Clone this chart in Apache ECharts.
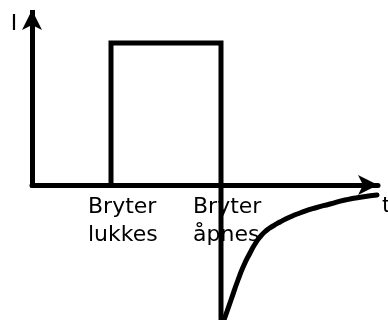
<!DOCTYPE html>
<html>
<head>
<meta charset="utf-8">
<script src="https://cdn.jsdelivr.net/npm/echarts@6/dist/echarts.min.js"></script>
<style>
  html, body { margin: 0; padding: 0; background: #fff; }
  #chart { width: 388px; height: 320px; }
</style>
</head>
<body>
<div id="chart"></div>
<script>
// square pulse: switch closed at 79, opened at 189
var pulseData = [[79, 0], [79, 142], [189, 142], [189, -135]];
// decaying current after the switch opens
var decayData = [[192, -135], [199, -115], [206, -95], [212, -80], [218, -68], [223, -59],
  [228, -52], [235, -45], [241, -41], [248, -37], [258, -32], [268, -28], [283, -23],
  [298, -19], [313, -15], [330, -12], [345, -10]];
var labelValues = [56, 161];
var labelTexts = ['Bryter\nlukkes', 'Bryter\nåpnes'];
var font = 'DejaVu Sans';

var chart = echarts.init(document.getElementById('chart'));

var option = {
  animation: false,
  grid: {
    left: 32,
    right: 10,
    top: 10,
    bottom: 0,
    containLabel: false,
    outerBoundsMode: 'none'
  },
  xAxis: {
    type: 'value',
    min: 0,
    max: 346,
    offset: -135,
    name: 't',
    nameLocation: 'end',
    nameGap: 4,
    nameTextStyle: {
      fontFamily: font,
      fontSize: 22,
      color: '#000',
      align: 'left',
      verticalAlign: 'top',
      lineHeight: 22,
      padding: [10, 0, 0, 0]
    },
    axisLine: {
      onZero: false,
      symbol: ['none', 'arrow'],
      symbolSize: [15, 20],
      lineStyle: { color: '#000', width: 5 }
    },
    axisTick: { show: false },
    splitLine: { show: false },
    axisLabel: {
      customValues: labelValues,
      margin: 8,
      align: 'left',
      fontFamily: font,
      fontSize: 22,
      lineHeight: 28,
      color: '#000',
      formatter: function (v) {
        var i = labelValues.indexOf(v);
        return i >= 0 ? labelTexts[i] : '';
      }
    }
  },
  yAxis: {
    type: 'value',
    min: -135,
    max: 175,
    name: 'I',
    nameLocation: 'end',
    nameGap: -3,
    nameTextStyle: {
      fontFamily: font,
      fontSize: 22,
      color: '#000',
      align: 'center',
      verticalAlign: 'top',
      lineHeight: 22,
      padding: [0, 36, 0, 0]
    },
    axisLine: { show: false },
    axisTick: { show: false },
    axisLabel: { show: false },
    splitLine: { show: false }
  },
  series: [
    {
      type: 'line',
      data: pulseData,
      symbol: 'none',
      silent: true,
      lineStyle: { color: '#000', width: 5, join: 'miter' },
      markLine: {
        silent: true,
        symbol: ['none', 'arrow'],
        symbolSize: [15, 20],
        label: { show: false },
        lineStyle: { color: '#000', width: 5, type: 'solid' },
        data: [[{ coord: [0, -2.5] }, { coord: [0, 175] }]]
      }
    },
    {
      type: 'line',
      data: decayData,
      smooth: 0.6,
      clip: false,
      symbol: 'none',
      silent: true,
      lineStyle: { color: '#000', width: 5, cap: 'round' }
    }
  ]
};

chart.setOption(option);
</script>
</body>
</html>
